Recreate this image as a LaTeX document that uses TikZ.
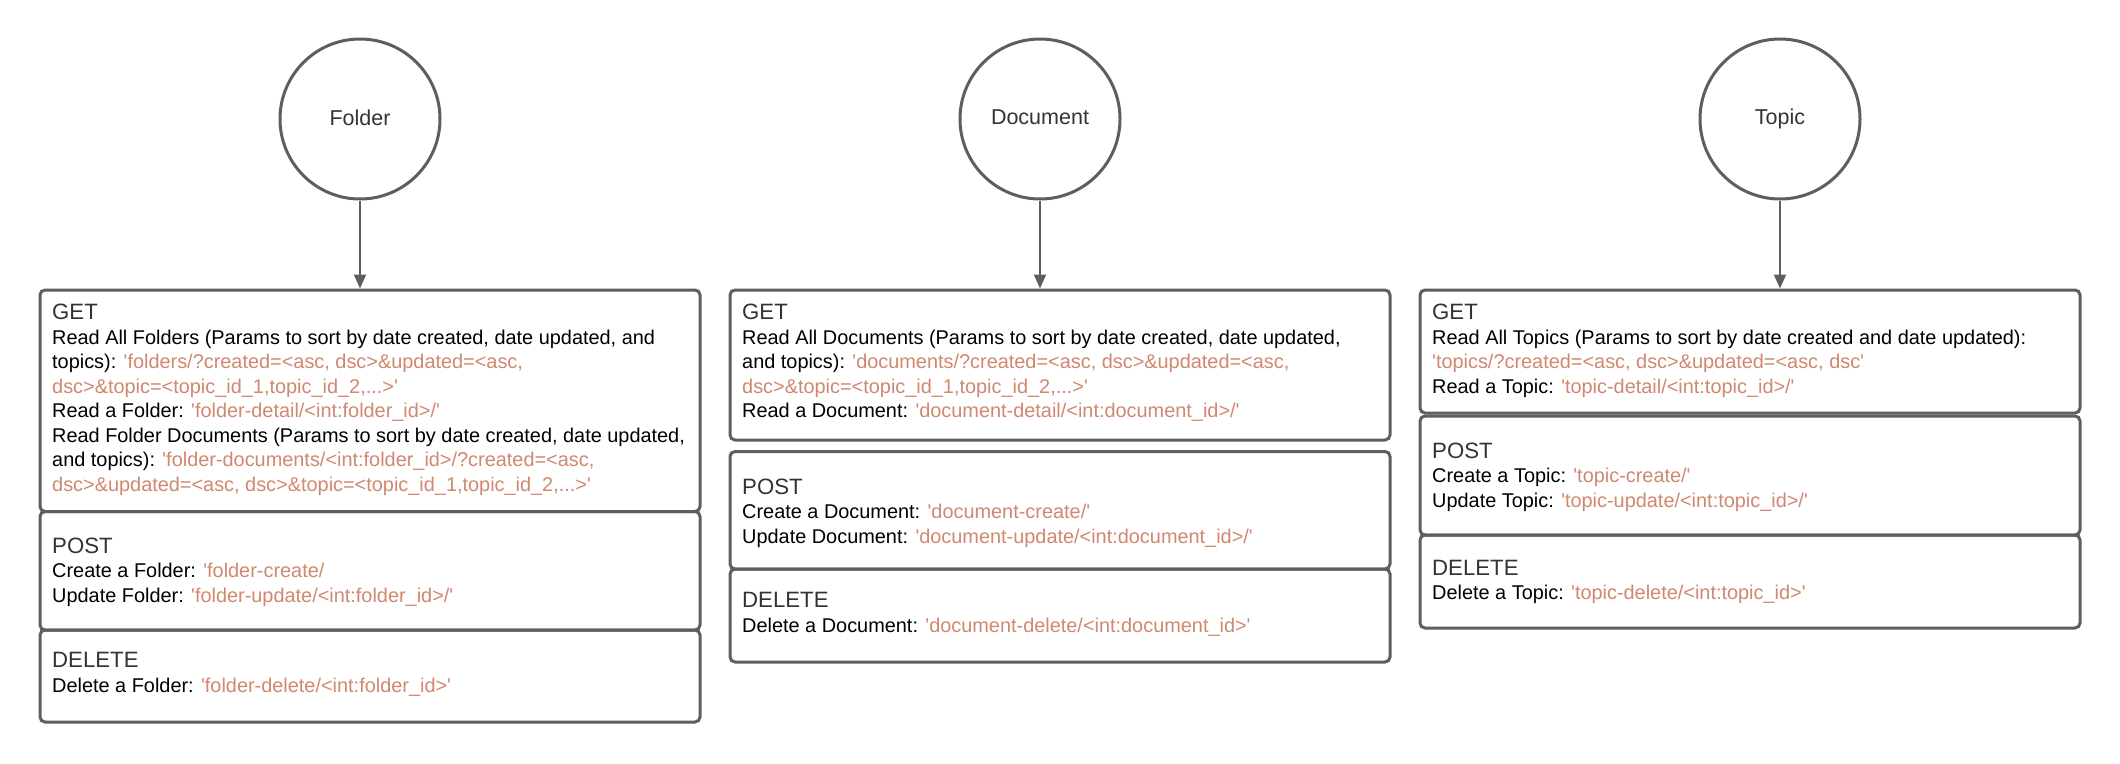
\documentclass[tikz,border=0pt]{standalone}
\usepackage{fontspec}
\setmainfont{Liberation Sans}
\usetikzlibrary{arrows.meta}
\definecolor{linec}{RGB}{94,94,94}
\definecolor{urlc}{RGB}{208,136,112}
\definecolor{headc}{RGB}{51,51,51}
\newcommand{\sq}{\textquotesingle}
\newcommand{\U}[1]{\textcolor{urlc}{#1}}
\newcommand{\hd}[1]{{\color{headc}\fontsize{22.2}{24.5}\selectfont #1}}
\tikzset{
  circst/.style={circle,draw=linec,line width=3pt,minimum size=160pt,inner sep=0pt,
    font=\fontsize{21.5}{25}\selectfont,text=headc},
  boxst/.style={draw=linec,line width=3pt,rounded corners=5pt,inner sep=0pt},
  txt/.style={anchor=west,inner sep=0pt,align=left,font=\fontsize{19.9}{24.5}\selectfont,text=black},
  arr/.style={draw=linec,line width=2pt,-{Triangle[length=14pt,width=12pt]}}
}
\begin{document}
\begin{tikzpicture}[x=1pt,y=-1pt]
\useasboundingbox[fill=white] (0,0) rectangle (2120,763);
% Folder
\node[circst] (cf) at (360,119) {\raisebox{3pt}{Folder}};
\node[boxst,minimum width=660pt,minimum height=221.5pt] (fg) at (370,400.75) {};
\node[boxst,minimum width=660pt,minimum height=118.5pt] (fp) at (370,570.75) {};
\node[boxst,minimum width=660pt,minimum height=92pt] (fd) at (370,676) {};
\draw[arr] (cf.south) -- (cf.south |- fg.north);
\node[txt] (fgt) at (52,399.9) {\hd{GET}\\
Read All Folders (Params to sort by date created, date updated, and\\
topics): \U{\sq folders/?created=<asc, dsc>\&updated=<asc,}\\
\U{dsc>\&topic=<topic\_id\_1,topic\_id\_2,...>\sq}\\
Read a Folder: \U{\sq folder-detail/<int:folder\_id>/\sq}\\
Read Folder Documents (Params to sort by date created, date updated,\\
and topics): \U{\sq folder-documents/<int:folder\_id>/?created=<asc,}\\
\U{dsc>\&updated=<asc, dsc>\&topic=<topic\_id\_1,topic\_id\_2,...>\sq}};
\node[txt] (fpt) at (52,572.2) {\hd{POST}\\
Create a Folder: \U{\sq folder-create/}\\
Update Folder: \U{\sq folder-update/<int:folder\_id>/\sq}};
\node[txt] (fdt) at (52,674.4) {\hd{DELETE}\\
Delete a Folder: \U{\sq folder-delete/<int:folder\_id>\sq}};
% Document
\node[circst] (cd) at (1040,119) {\raisebox{3pt}{Document}};
\node[boxst,minimum width=660pt,minimum height=150pt] (dg) at (1060,365) {};
\node[boxst,minimum width=660pt,minimum height=117.5pt] (dp) at (1060,510.25) {};
\node[boxst,minimum width=660pt,minimum height=93pt] (dd) at (1060,615.5) {};
\draw[arr] (cd.south) -- (cd.south |- dg.north);
\node[txt] (dgt) at (742,363.2) {\hd{GET}\\
Read All Documents (Params to sort by date created, date updated,\\
and topics): \U{\sq documents/?created=<asc, dsc>\&updated=<asc,}\\
\U{dsc>\&topic=<topic\_id\_1,topic\_id\_2,...>\sq}\\
Read a Document: \U{\sq document-detail/<int:document\_id>/\sq}};
\node[txt] (dpt) at (742,513) {\hd{POST}\\
Create a Document: \U{\sq document-create/\sq}\\
Update Document: \U{\sq document-update/<int:document\_id>/\sq}};
\node[txt] (ddt) at (742,614.4) {\hd{DELETE}\\
Delete a Document: \U{\sq document-delete/<int:document\_id>\sq}};
% Topic
\node[circst] (ct) at (1780,119) {\raisebox{3pt}{Topic}};
\node[boxst,minimum width=660pt,minimum height=123pt] (tg) at (1750,351.5) {};
\node[boxst,minimum width=660pt,minimum height=119pt] (tp) at (1750,475.5) {};
\node[boxst,minimum width=660pt,minimum height=93pt] (td) at (1750,581.5) {};
\draw[arr] (ct.south) -- (ct.south |- tg.north);
\node[txt] (tgt) at (1432,350.9) {\hd{GET}\\
Read All Topics (Params to sort by date created and date updated):\\
\U{\sq topics/?created=<asc, dsc>\&updated=<asc, dsc\sq}\\
Read a Topic: \U{\sq topic-detail/<int:topic\_id>/\sq}};
\node[txt] (tpt) at (1432,477.3) {\hd{POST}\\
Create a Topic: \U{\sq topic-create/\sq}\\
Update Topic: \U{\sq topic-update/<int:topic\_id>/\sq}};
\node[txt] (tdt) at (1432,581.7) {\hd{DELETE}\\
Delete a Topic: \U{\sq topic-delete/<int:topic\_id>\sq}};
\end{tikzpicture}
\end{document}
